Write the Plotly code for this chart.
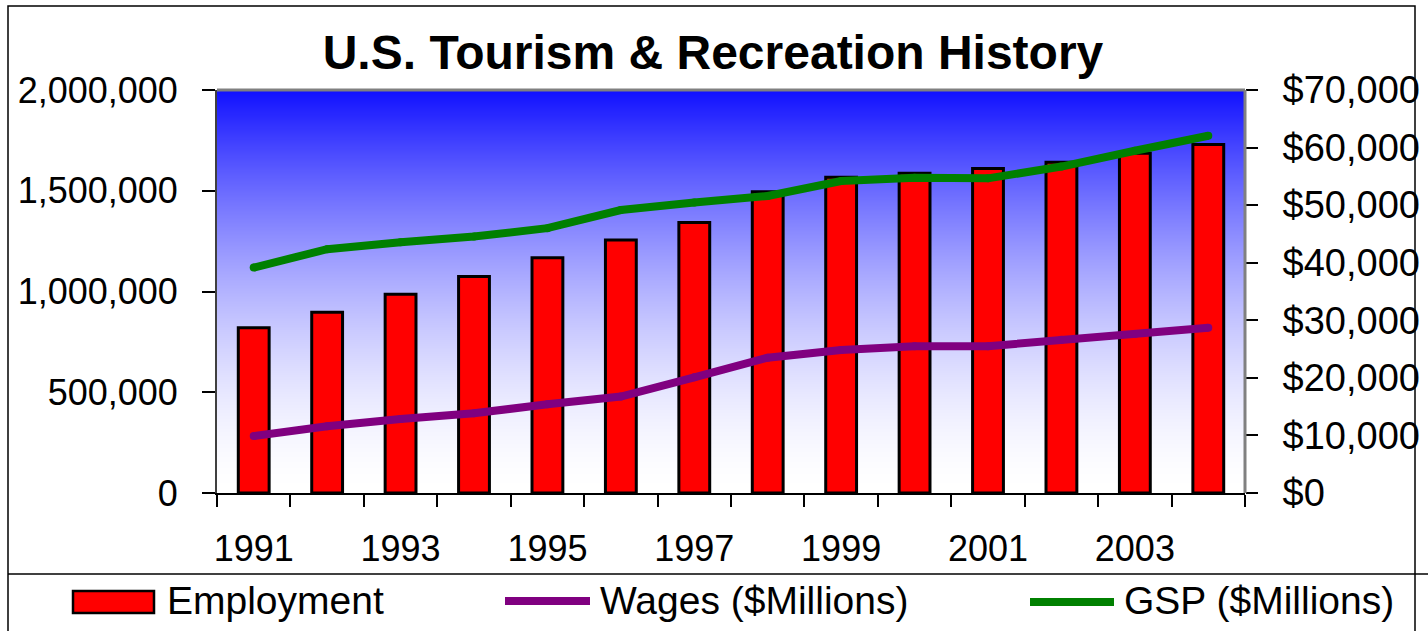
import plotly.graph_objects as go

# data
years = [1991, 1992, 1993, 1994, 1995, 1996, 1997, 1998, 1999, 2000, 2001, 2002, 2003, 2004]
employment = [820000, 897000, 986000, 1075000, 1168000, 1256000, 1343000, 1495000,
              1567000, 1587000, 1611000, 1641000, 1686000, 1730000]
wages = [9900, 11600, 12850, 13850, 15400, 16750, 20100, 23500,
         24850, 25500, 25500, 26600, 27600, 28700]
gsp = [39150, 42350, 43550, 44550, 46000, 49150, 50450, 51600,
       54200, 54750, 54650, 56700, 59450, 62050]
year_labels = [str(y) for y in years[::2]]
left_ticks = [0, 500000, 1000000, 1500000, 2000000]
right_ticks = [0, 10000, 20000, 30000, 40000, 50000, 60000, 70000]
right_labels = [f"${v:,}" for v in right_ticks]

FONT = "Liberation Sans, Arial, sans-serif"
W, H = 1428, 631
L, R, T, B = 217, 1245, 90, 493   # plot area in pixels


def px(x):
    return (x - L) / (R - L)


def py(y):
    return (B - y) / (B - T)


fig = go.Figure()

fig.add_trace(go.Bar(x=years, y=employment, name="Employment", width=0.42,
                     marker=dict(color="#ff0000", line=dict(color="black", width=3)),
                     showlegend=False))
fig.add_trace(go.Scatter(x=years, y=wages, yaxis="y2", mode="lines+markers",
                         line=dict(color="#800080", width=8),
                         marker=dict(color="#800080", size=8),
                         name="Wages ($Millions)", showlegend=False))
fig.add_trace(go.Scatter(x=years, y=gsp, yaxis="y2", mode="lines+markers",
                         line=dict(color="#008000", width=8),
                         marker=dict(color="#008000", size=8),
                         name="GSP ($Millions)", showlegend=False))

shapes = []
# blue -> white vertical gradient behind the plot, 1px stripes with overlap
n = B - T
for i in range(n):
    t = (i + 0.5) / n
    v = int(round(16 + (255 - 16) * (1 - (1 - t) ** 1.65)))
    shapes.append(dict(type="rect", xref="paper", yref="paper", layer="below",
                       x0=0, x1=1, y0=1 - i / n, y1=max(0, 1 - (i + 1.6) / n),
                       fillcolor=f"rgb({v},{v},255)", line=dict(width=0)))
# plot border (top / right grey)
shapes.append(dict(type="line", xref="paper", yref="paper", x0=0, x1=1, y0=1, y1=1,
                   line=dict(color="#808080", width=3)))
shapes.append(dict(type="line", xref="paper", yref="paper", x0=1, x1=1, y0=0, y1=1,
                   line=dict(color="#808080", width=3)))
# outer chart frame and legend box
shapes.append(dict(type="rect", xref="paper", yref="paper",
                   x0=px(8), x1=px(1415), y0=py(6), y1=py(660),
                   line=dict(color="black", width=1.5)))
shapes.append(dict(type="line", xref="paper", yref="paper",
                   x0=px(8), x1=px(1428), y0=py(574), y1=py(574),
                   line=dict(color="black", width=1.5)))

# manual legend
shapes.append(dict(type="rect", xref="paper", yref="paper",
                   x0=px(73), x1=px(154), y0=py(591), y1=py(613),
                   fillcolor="#ff0000", line=dict(color="black", width=2.5)))
shapes.append(dict(type="line", xref="paper", yref="paper",
                   x0=px(505), x1=px(590), y0=py(601), y1=py(601),
                   line=dict(color="#800080", width=8)))
shapes.append(dict(type="line", xref="paper", yref="paper",
                   x0=px(1030), x1=px(1114), y0=py(602), y1=py(602),
                   line=dict(color="#008000", width=8)))

legend_text = [("Employment", 165), ("Wages ($Millions)", 598), ("GSP ($Millions)", 1122)]
annotations = []
for txt, x in legend_text:
    annotations.append(dict(text=txt, xref="paper", yref="paper", x=px(x), y=py(600),
                            xanchor="left", yanchor="middle", showarrow=False,
                            font=dict(family=FONT, size=39, color="black")))

fig.update_layout(
    width=W, height=H,
    margin=dict(l=L, r=W - R, t=T, b=H - B, autoexpand=False),
    paper_bgcolor="white", plot_bgcolor="white",
    title=dict(text="<b>U.S. Tourism & Recreation History</b>", xref="container",
               x=713 / W, xanchor="center", yref="container", y=1 - 52 / H, yanchor="middle",
               font=dict(family=FONT, size=48, color="black")),
    font=dict(family=FONT, size=36, color="black"),
    xaxis=dict(range=[1990.5, 2004.5], tickvals=years[::2], ticktext=year_labels,
               ticks="", showline=True, linecolor="black", linewidth=2,
               showgrid=False, zeroline=False, ticklabelstandoff=23,
               minor=dict(tick0=1990.5, dtick=1, ticks="outside", ticklen=12,
                          tickwidth=1.5, tickcolor="black", showgrid=False)),
    yaxis=dict(range=[0, 2000000], tickvals=left_ticks, tickformat=",",
               ticks="outside", ticklen=13, tickwidth=1.5, tickcolor="black",
               showline=True, linecolor="#404040", linewidth=2,
               showgrid=False, zeroline=False, ticklabelstandoff=17,
               tickfont=dict(size=36)),
    yaxis2=dict(range=[0, 70000], tickvals=right_ticks, ticktext=right_labels,
                overlaying="y", side="right", ticks="outside", ticklen=12,
                tickwidth=1.5, tickcolor="black", showline=False,
                showgrid=False, zeroline=False, ticklabelstandoff=17,
                tickfont=dict(size=38)),
    bargap=0.58,
    shapes=shapes,
    annotations=annotations,
)

fig.write_html("out.html", config={"displayModeBar": False},
               post_script="document.body.style.margin='0';")
